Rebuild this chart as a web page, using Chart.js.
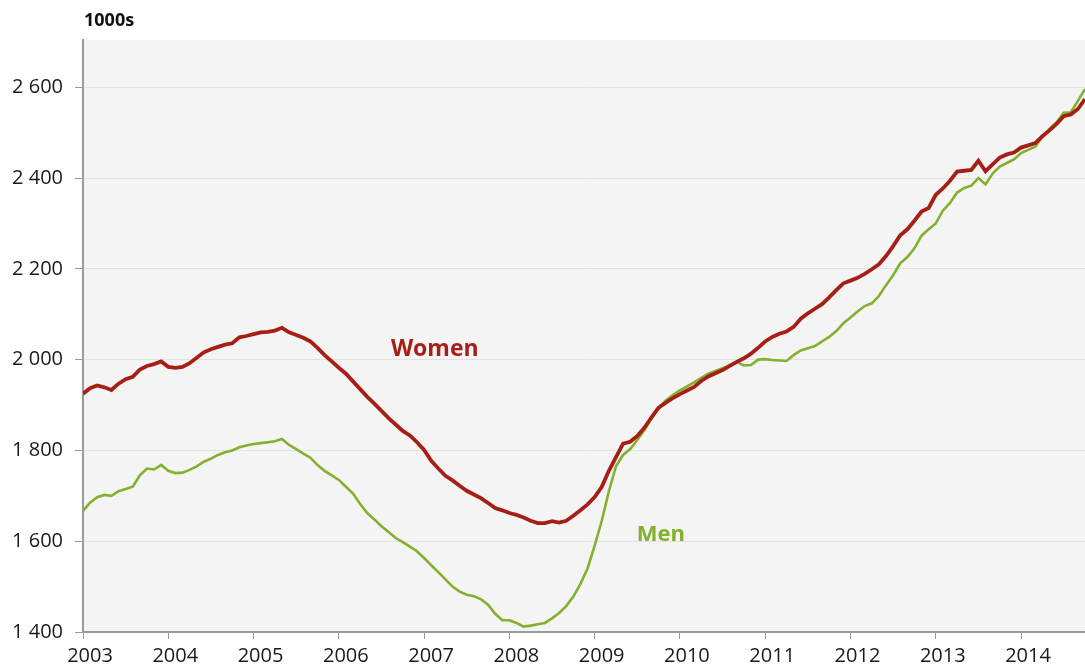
<!DOCTYPE html>
<html>
<head>
<meta charset="utf-8">
<script src="https://cdn.jsdelivr.net/npm/chart.js@4.4.0/dist/chart.umd.min.js"></script>
<style>
  html, body { margin: 0; padding: 0; background: #fff; }
  #wrap { width: 1085px; height: 670px; position: relative; }
</style>
</head>
<body>
<div id="wrap"><canvas id="my-chart"></canvas></div>
<script>
'use strict';

/* DATA - monthly, Jan 2003 onwards (1000s) */
const yearLabels = ['2003', '2004', '2005', '2006', '2007', '2008', '2009', '2010', '2011', '2012', '2013', '2014'];
const yTicks = [1400, 1600, 1800, 2000, 2200, 2400, 2600];
const seriesNames = ['Women', 'Men'];

const women = [
  1925, 1937, 1943, 1939, 1933, 1947, 1957, 1962, 1978, 1986, 1990, 1996,
  1984, 1982, 1984, 1992, 2004, 2016, 2023, 2028, 2033, 2036, 2049, 2052,
  2056, 2060, 2061, 2064, 2070, 2060, 2054, 2048, 2040, 2026, 2010, 1996,
  1982, 1969, 1952, 1935, 1918, 1903, 1887, 1871, 1857, 1843, 1833, 1818,
  1801, 1777, 1760, 1744, 1734, 1722, 1711, 1703, 1695, 1684, 1673, 1668,
  1662, 1658, 1652, 1645, 1640, 1640, 1644, 1641, 1645, 1656, 1668, 1681,
  1697, 1720, 1755, 1785, 1815, 1819, 1832, 1850, 1873, 1894, 1905, 1915,
  1924, 1932, 1940, 1953, 1963, 1970, 1977, 1986, 1995, 2003, 2013, 2026,
  2040, 2050, 2057, 2062, 2072, 2090, 2102, 2112, 2122, 2137, 2153, 2168,
  2174, 2180, 2189, 2199, 2210, 2228, 2250, 2274, 2287, 2306, 2326, 2334,
  2363, 2377, 2394, 2414, 2416, 2418, 2438, 2415, 2430, 2445, 2452, 2456,
  2467, 2472, 2477, 2492, 2505, 2519, 2536, 2540, 2552, 2574
];

const men = [
  1667, 1685, 1697, 1702, 1700, 1710, 1715, 1720, 1745, 1760, 1758, 1768,
  1755, 1750, 1751, 1757, 1765, 1775, 1782, 1790, 1796, 1800, 1807, 1811,
  1814, 1816, 1818, 1820, 1825, 1812, 1803, 1793, 1784, 1768, 1755, 1745,
  1735, 1720, 1705, 1682, 1662, 1648, 1633, 1620, 1607, 1598, 1588, 1578,
  1563, 1547, 1532, 1516, 1500, 1489, 1482, 1479, 1472, 1460, 1440, 1426,
  1426, 1420, 1412, 1414, 1417, 1420, 1430, 1442, 1457, 1478, 1506, 1540,
  1590, 1645, 1710, 1765, 1790, 1803, 1823, 1845, 1870, 1893, 1910, 1922,
  1932, 1941, 1950, 1960, 1969, 1975, 1981, 1987, 1995, 1987, 1988, 2000,
  2001, 1999, 1998, 1997, 2010, 2020, 2025, 2030, 2040, 2050, 2063, 2080,
  2093, 2106, 2118, 2124, 2140, 2164, 2186, 2212, 2226, 2245, 2273, 2287,
  2300, 2328, 2345, 2368, 2378, 2383, 2400, 2386, 2410, 2425, 2433, 2441,
  2455, 2462, 2469, 2490, 2508, 2523, 2544, 2545, 2570, 2596
];

/* STYLE */
const RED = '#a61f17';
const GREEN = '#84b02d';
const AXIS = '#9a9a9a';
const FONT = '"Open Sans", "Noto Sans", sans-serif';

function toPoints(arr) {
  return arr.map((v, i) => ({ x: i, y: v }));
}

function fmtThousands(v) {
  return String(v).replace(/\B(?=(\d{3})+(?!\d))/g, ' ');
}

/* PLUGIN: plot background, unit label, inline series names */
const plotDecor = {
  id: 'plotDecor',
  beforeDraw(chart) {
    const { ctx, chartArea: a } = chart;
    ctx.save();
    ctx.fillStyle = '#f4f4f4';
    ctx.fillRect(a.left, a.top, a.right - a.left, a.bottom - a.top);
    ctx.restore();
  },
  afterDraw(chart) {
    const { ctx, chartArea: a, scales } = chart;
    ctx.save();
    ctx.textBaseline = 'middle';
    ctx.fillStyle = '#111';
    ctx.font = 'bold 18px ' + FONT;
    ctx.fillText('1000s', a.left + 1, 21);

    // name labels sit next to their lines
    ctx.textAlign = 'center';
    ctx.font = 'bold 23px ' + FONT;
    ctx.fillStyle = RED;
    ctx.fillText(seriesNames[0], scales.x.getPixelForValue(49.5), scales.y.getPixelForValue(2022));
    ctx.fillStyle = GREEN;
    ctx.font = 'bold 22px ' + FONT;
    ctx.fillText(seriesNames[1], scales.x.getPixelForValue(81.3), scales.y.getPixelForValue(1614));
    ctx.restore();
  }
};

function renderChart() {
  let canvasElem = document.getElementById('my-chart').getContext('2d');
  let myChartObj = {
    type: 'line',
    data: {
      datasets: [
        {
          label: seriesNames[1],
          data: toPoints(men),
          borderColor: GREEN,
          borderWidth: 2.6,
          pointRadius: 0,
          tension: 0,
          order: 2,
        },
        {
          label: seriesNames[0],
          data: toPoints(women),
          borderColor: RED,
          borderWidth: 3.8,
          pointRadius: 0,
          tension: 0,
          order: 1,
        },
      ],
    },
    options: {
      responsive: true,
      maintainAspectRatio: false,
      animation: false,
      layout: { padding: { top: 40, right: 0, bottom: 0, left: 0 } },
      plugins: {
        legend: { display: false },
        tooltip: { enabled: false },
      },
      scales: {
        x: {
          type: 'linear',
          min: 0,
          max: women.length - 1,
          afterBuildTicks: (axis) => {
            axis.ticks = yearLabels.map((_, i) => ({ value: i * 12 }));
          },
          afterFit: (s) => { s.height = 38; },
          ticks: {
            autoSkip: false,
            maxRotation: 0,
            labelOffset: 7,
            padding: 5,
            color: '#1a1a1a',
            font: { family: FONT, size: 20 },
            callback: (v, i) => yearLabels[i],
          },
          grid: { drawOnChartArea: false, drawTicks: true, tickLength: 7, color: AXIS },
          border: { color: AXIS, width: 2 },
        },
        y: {
          min: 1400,
          max: 2704,
          afterBuildTicks: (axis) => {
            axis.ticks = yTicks.map((v) => ({ value: v }));
          },
          afterFit: (s) => { s.width = 83; },
          ticks: {
            padding: 12,
            color: '#1a1a1a',
            font: { family: FONT, size: 20 },
            callback: (v) => fmtThousands(v),
          },
          grid: { color: '#e2e2e2', tickColor: AXIS, tickLength: 8 },
          border: { color: AXIS, width: 2 },
        },
      },
    },
    plugins: [plotDecor],
  };
  new Chart(canvasElem, myChartObj);
}
renderChart();
</script>
</body>
</html>
